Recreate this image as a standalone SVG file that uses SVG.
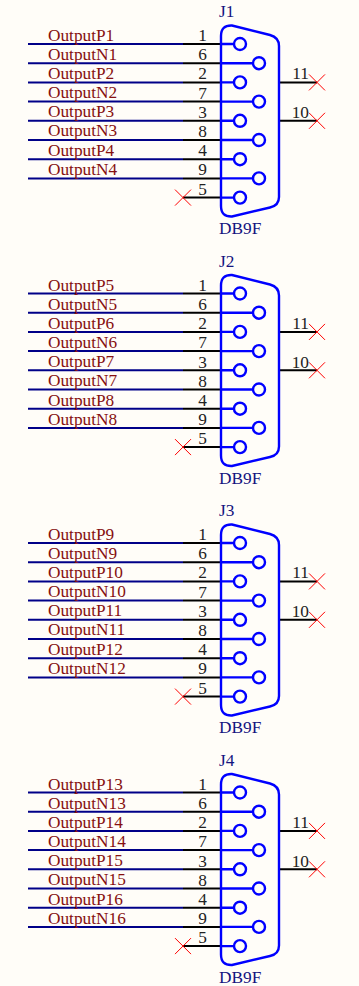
<svg xmlns="http://www.w3.org/2000/svg" width="359" height="986" viewBox="0 0 359 986">
<style>
text{font-family:"Liberation Serif","Times New Roman",serif;font-size:17.3px}
.net{fill:#861010}.num{fill:#222;text-anchor:end}.ref{fill:#14147f}
.w{stroke:#000088;stroke-width:2;fill:none}.k{stroke:#000;stroke-width:2;fill:none}
.b{stroke:#0000ff;stroke-width:2.400;fill:none}.x{stroke:#ff0000;stroke-width:1;fill:none}
</style>
<defs>
<g id="wires">
<path class="w" d="M28 44H183M28 63.2H183M28 82.4H183M28 101.6H183M28 120.8H183M28 140H183M28 159.2H183M28 178.4H183"/>
<path class="k" d="M183 44H221M183 63.2H221M183 82.4H221M183 101.6H221M183 120.8H221M183 140H221M183 159.2H221M183 178.4H221M183 197.6H221M279 82.4H317M279 120.8H317"/>
<path class="x" d="M175 189.6L191 205.6M191 189.6L175 205.6M309 74.4L325 90.4M325 74.4L309 90.4M309 112.8L325 128.8M325 112.8L309 128.8"/>
</g>
<g id="body">
<path class="b" d="M221 36Q221 25 232 25.5L270 35Q279 37.500 279 46V197Q279 205.500 270 207.500L232 216.500Q221 217 221 206Z"/>
<path class="b" d="M221 44H234M221 63.2H253M221 82.4H234M221 101.600H253M221 120.800H234M221 140H253M221 159.200H234M221 178.400H253M221 197.600H234"/>
<g class="b"><circle cx="240" cy="44" r="6"/><circle cx="259" cy="63.200" r="6"/><circle cx="240" cy="82.400" r="6"/><circle cx="259" cy="101.600" r="6"/><circle cx="240" cy="120.800" r="6"/><circle cx="259" cy="140" r="6"/><circle cx="240" cy="159.200" r="6"/><circle cx="259" cy="178.400" r="6"/><circle cx="240" cy="197.600" r="6"/></g>
<g class="num"><text x="207" y="41">1</text><text x="207" y="60">6</text><text x="207" y="79">2</text><text x="207" y="98.500">7</text><text x="207" y="118">3</text><text x="207" y="137">8</text><text x="207" y="156">4</text><text x="207" y="175">9</text><text x="207" y="194.500">5</text><text x="309" y="79">11</text><text x="309" y="118">10</text></g>
<text class="ref" x="219" y="234">DB9F</text>
</g>
</defs>
<rect width="359" height="986" fill="#fffdf8"/>
<g id="connectors">
<use href="#wires"/>
<use href="#wires" y="249.500"/>
<use href="#wires" y="499"/>
<use href="#wires" y="748.500"/>
</g>
<g id="J1"><use href="#body"/><text class="ref" x="219" y="17">J1</text>
<g class="net"><text x="48" y="41">OutputP1</text><text x="48" y="60">OutputN1</text><text x="48" y="79">OutputP2</text><text x="48" y="98">OutputN2</text><text x="48" y="117">OutputP3</text><text x="48" y="136">OutputN3</text><text x="48" y="156">OutputP4</text><text x="48" y="175">OutputN4</text></g></g>
<g id="J2" transform="translate(0 249.500)"><use href="#body"/><text class="ref" x="219" y="17">J2</text>
<g class="net"><text x="48" y="41">OutputP5</text><text x="48" y="60">OutputN5</text><text x="48" y="79">OutputP6</text><text x="48" y="98">OutputN6</text><text x="48" y="117">OutputP7</text><text x="48" y="136">OutputN7</text><text x="48" y="156">OutputP8</text><text x="48" y="175">OutputN8</text></g></g>
<g id="J3" transform="translate(0 499)"><use href="#body"/><text class="ref" x="219" y="17">J3</text>
<g class="net"><text x="48" y="41">OutputP9</text><text x="48" y="60">OutputN9</text><text x="48" y="79">OutputP10</text><text x="48" y="98">OutputN10</text><text x="48" y="117">OutputP11</text><text x="48" y="136">OutputN11</text><text x="48" y="156">OutputP12</text><text x="48" y="175">OutputN12</text></g></g>
<g id="J4" transform="translate(0 748.500)"><use href="#body"/><text class="ref" x="219" y="17">J4</text>
<g class="net"><text x="48" y="41">OutputP13</text><text x="48" y="60">OutputN13</text><text x="48" y="79">OutputP14</text><text x="48" y="98">OutputN14</text><text x="48" y="117">OutputP15</text><text x="48" y="136">OutputN15</text><text x="48" y="156">OutputP16</text><text x="48" y="175">OutputN16</text></g></g>
</svg>
